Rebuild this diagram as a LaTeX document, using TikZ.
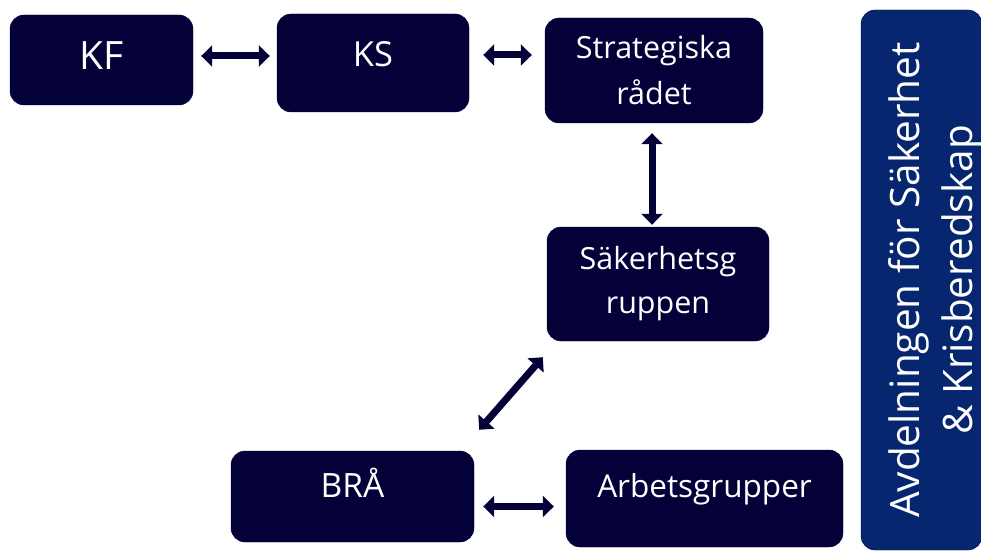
\documentclass[tikz,border=0pt]{standalone}
\usepackage{fontspec}
\setmainfont{Open Sans}
\usetikzlibrary{arrows.meta,calc}
\definecolor{navy}{RGB}{3,1,56}
\definecolor{avdblue}{RGB}{6,38,112}
\definecolor{avdline}{RGB}{2,16,64}
\tikzset{
  box/.style={fill=navy,draw=navy,rounded corners=14pt,text=white,align=center,inner sep=0pt},
  dblarrow/.style={navy,line width=7pt,{Triangle[length=11pt,width=21pt]}-{Triangle[length=11pt,width=21pt]}}
}
\begin{document}
\begin{tikzpicture}[x=1pt,y=-1pt]
\useasboundingbox (0,0) rectangle (981,553);
% boxes
\node[box,minimum width=183pt,minimum height=90pt,text depth=8pt,font=\fontsize{39}{39}\selectfont] (kf) at (101.5,60) {KF};
\node[box,minimum width=192pt,minimum height=98pt,text depth=18pt,font=\fontsize{34.5}{35}\selectfont] (ks) at (373,63) {KS};
\node[box,minimum width=218pt,minimum height=105pt,font=\fontsize{30.5}{46}\selectfont] (strat) at (654,70.5) {Strategiska\\rådet};
\node[box,minimum width=222pt,minimum height=114pt,font=\fontsize{30.5}{44}\selectfont] (saker) at (658,284) {Säkerhetsg\\ruppen};
\node[box,minimum width=243pt,minimum height=91pt,text depth=28pt,font=\fontsize{33.5}{34}\selectfont] (bra) at (352.5,496.5) {BRÅ};
\node[box,minimum width=277pt,minimum height=97pt,text depth=25pt,font=\fontsize{31.5}{32}\selectfont] (arb) at (704.5,498.5) {Arbetsgrupper};
\node[box,fill=avdblue,draw=avdline,rotate=90,minimum width=540pt,minimum height=121pt,text height=111pt,text depth=10pt,font=\fontsize{40.5}{53}\selectfont] (avd) at (921.5,280) {Avdelningen för Säkerhet\\\& Krisberedskap};
% arrows
\draw[dblarrow,shorten <=8pt,shorten >=7pt] ([yshift=4pt]kf.east) -- ([yshift=4pt]kf.east -| ks.west);
\draw[dblarrow,shorten <=14pt,shorten >=13pt] ([yshift=8pt]ks.east) -- ([yshift=8pt]ks.east -| strat.west);
\draw[dblarrow,shorten <=10pt,shorten >=2pt] ([xshift=-2pt]strat.south) -- ([xshift=-2pt]strat.south |- saker.north);
\draw[dblarrow] ($(saker.south west)+(-4,16)$) -- ($(bra.north east)+(5,-21)$);
\draw[dblarrow,shorten <=9pt,shorten >=12pt] ([yshift=-10pt]bra.east) -- ([yshift=-10pt]bra.east -| arb.west);
\end{tikzpicture}
\end{document}
